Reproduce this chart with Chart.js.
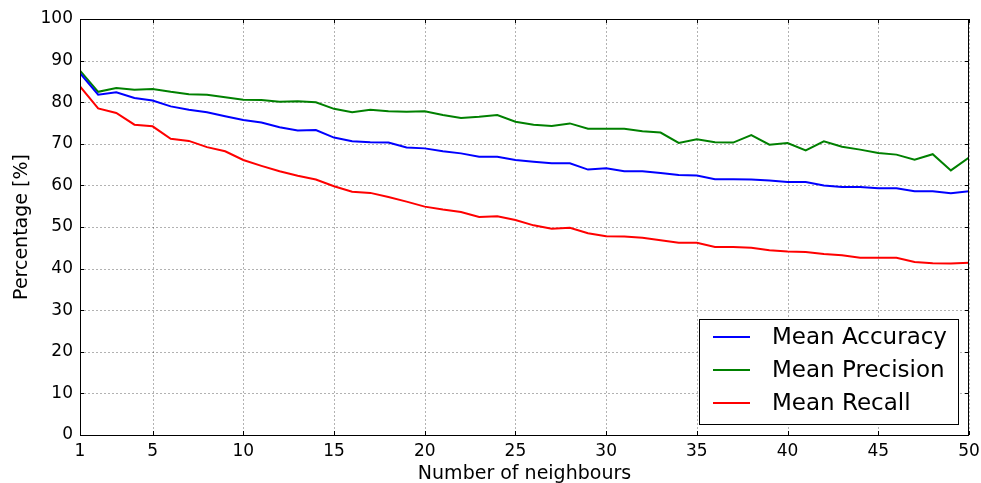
<!DOCTYPE html>
<html>
<head>
<meta charset="utf-8">
<script src="https://cdn.jsdelivr.net/npm/chart.js@4/dist/chart.umd.min.js"></script>
<style>
html,body{margin:0;padding:0;background:#fff;}
canvas{display:block;}
</style>
</head>
<body>
<canvas id="c" width="981" height="483"></canvas>
<script>
const neighbours = [1,2,3,4,5,6,7,8,9,10,11,12,13,14,15,16,17,18,19,20,21,22,23,24,25,26,27,28,29,30,31,32,33,34,35,36,37,38,39,40,41,42,43,44,45,46,47,48,49,50];
const meanAccuracy = [87.0,81.8,82.4,81.0,80.4,79.0,78.2,77.6,76.6,75.7,75.1,74.0,73.2,73.3,71.5,70.6,70.4,70.3,69.1,68.9,68.2,67.7,66.9,66.9,66.1,65.7,65.3,65.3,63.8,64.1,63.4,63.4,63.0,62.5,62.4,61.5,61.5,61.4,61.2,60.8,60.8,60.0,59.6,59.6,59.3,59.3,58.6,58.6,58.1,58.6];
const meanPrecision = [87.6,82.5,83.4,83.0,83.2,82.5,81.9,81.8,81.2,80.6,80.5,80.1,80.2,80.0,78.4,77.6,78.2,77.8,77.7,77.8,76.9,76.2,76.5,76.9,75.3,74.6,74.3,74.9,73.6,73.6,73.6,73.0,72.7,70.2,71.1,70.4,70.3,72.1,69.8,70.2,68.4,70.6,69.3,68.6,67.8,67.4,66.2,67.5,63.6,66.7];
const meanRecall = [83.8,78.5,77.4,74.6,74.2,71.2,70.7,69.2,68.2,66.1,64.7,63.4,62.3,61.4,59.8,58.5,58.2,57.2,56.1,54.9,54.2,53.6,52.4,52.6,51.7,50.4,49.6,49.8,48.5,47.8,47.7,47.4,46.8,46.2,46.2,45.2,45.2,45.0,44.4,44.1,44.0,43.5,43.2,42.6,42.6,42.6,41.6,41.3,41.2,41.4];
const seriesLabels = ["Mean Accuracy","Mean Precision","Mean Recall"];
const xTickValues = [1,5,10,15,20,25,30,35,40,45,50];
const yTickValues = [0,10,20,30,40,50,60,70,80,90,100];

const FONT = "'DejaVu Sans', sans-serif";
const colors = ['#0000ff','#008000','#ff0000'];
const seriesValues = [meanAccuracy, meanPrecision, meanRecall];

const datasets = seriesValues.map((vals, i) => ({
  label: seriesLabels[i],
  data: neighbours.map((n, j) => ({x: n, y: vals[j]})),
  borderColor: colors[i],
  backgroundColor: colors[i],
  borderWidth: 2,
  pointRadius: 0,
  tension: 0,
  fill: false
}));

const gridPlugin = {
  id: 'dottedGrid',
  beforeDatasetsDraw(chart) {
    const ctx = chart.ctx;
    const a = chart.chartArea;
    const xs = chart.scales.x, ys = chart.scales.y;
    ctx.save();
    ctx.strokeStyle = 'rgba(0,0,0,0.3)';
    ctx.lineWidth = 1;
    ctx.setLineDash([2, 2]);
    ctx.beginPath();
    xTickValues.forEach(v => {
      const px = Math.round(xs.getPixelForValue(v)) + 0.5;
      ctx.moveTo(px, a.top); ctx.lineTo(px, a.bottom);
    });
    yTickValues.forEach(v => {
      const py = Math.round(ys.getPixelForValue(v)) + 0.5;
      ctx.moveTo(a.left, py); ctx.lineTo(a.right, py);
    });
    ctx.stroke();
    ctx.restore();
  }
};

const framePlugin = {
  id: 'frame',
  afterDatasetsDraw(chart) {
    const ctx = chart.ctx;
    const a = chart.chartArea;
    const xs = chart.scales.x, ys = chart.scales.y;
    ctx.save();
    ctx.strokeStyle = '#000';
    ctx.lineWidth = 1;
    ctx.beginPath();
    xTickValues.forEach(v => {
      const px = Math.round(xs.getPixelForValue(v)) + 0.5;
      ctx.moveTo(px, a.bottom); ctx.lineTo(px, a.bottom - 4);
      ctx.moveTo(px, a.top); ctx.lineTo(px, a.top + 4);
    });
    yTickValues.forEach(v => {
      const py = Math.round(ys.getPixelForValue(v)) + 0.5;
      ctx.moveTo(a.left, py); ctx.lineTo(a.left + 4, py);
      ctx.moveTo(a.right, py); ctx.lineTo(a.right - 4, py);
    });
    ctx.stroke();
    ctx.strokeRect(Math.round(a.left) + 0.5, Math.round(a.top) + 0.5,
                   Math.round(a.right - a.left) - 1, Math.round(a.bottom - a.top));
    // legend box
    const bx = 699.5, by = 319.5, bw = 259, bh = 105;
    ctx.fillStyle = '#fff';
    ctx.fillRect(bx, by, bw, bh);
    ctx.strokeStyle = '#000';
    ctx.lineWidth = 1;
    ctx.strokeRect(bx, by, bw, bh);
    ctx.font = '23px ' + FONT;
    ctx.textBaseline = 'middle';
    ctx.textAlign = 'left';
    chart.data.datasets.forEach((ds, i) => {
      const yy = 337 + i * 33;
      ctx.strokeStyle = ds.borderColor;
      ctx.lineWidth = 2;
      ctx.beginPath();
      ctx.moveTo(713, yy); ctx.lineTo(750, yy);
      ctx.stroke();
      ctx.fillStyle = '#000';
      ctx.fillText(ds.label, 772, yy + 1);
    });
    ctx.restore();
  }
};

new Chart(document.getElementById('c'), {
  type: 'line',
  data: { datasets },
  plugins: [gridPlugin, framePlugin],
  options: {
    responsive: false,
    devicePixelRatio: 1,
    animation: false,
    layout: { padding: { top: 19, right: 12, left: 0, bottom: 0 } },
    plugins: { legend: { display: false }, tooltip: { enabled: false } },
    scales: {
      x: {
        type: 'linear',
        min: 1, max: 50,
        afterBuildTicks: s => { s.ticks = xTickValues.map(v => ({value: v})); },
        afterFit: s => { s.height = 48; s.paddingLeft = 0; s.paddingRight = 0; },
        grid: { display: false, drawTicks: false },
        border: { display: false },
        ticks: { color: '#000', font: { family: FONT, size: 17 }, padding: 6, maxRotation: 0, autoSkip: false },
        title: { display: true, text: 'Number of neighbours', color: '#000', font: { family: FONT, size: 19 }, padding: { top: 0, bottom: -2 } }
      },
      y: {
        min: 0, max: 100,
        afterBuildTicks: s => { s.ticks = yTickValues.map(v => ({value: v})); },
        afterFit: s => { s.width = 80; s.paddingTop = 0; s.paddingBottom = 0; },
        grid: { display: false, drawTicks: false },
        border: { display: false },
        ticks: { color: '#000', font: { family: FONT, size: 17 }, padding: 7 },
        title: { display: true, text: 'Percentage [%]', color: '#000', font: { family: FONT, size: 19 }, padding: { top: 11, bottom: 0 } }
      }
    }
  }
});
</script>
</body>
</html>
